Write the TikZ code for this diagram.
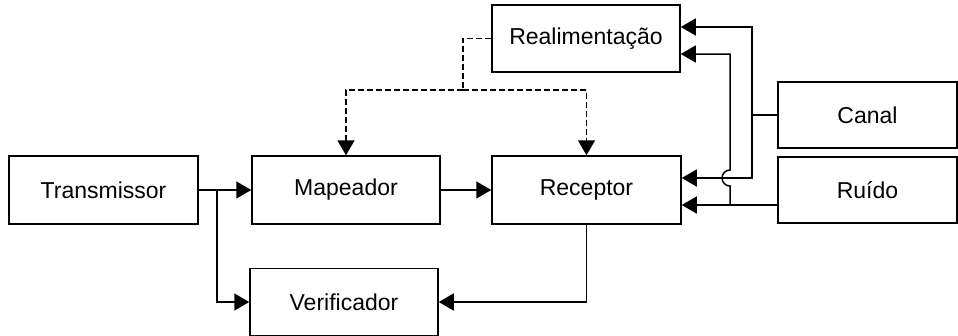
\documentclass[tikz,border=0pt]{standalone}
\usepackage{fontspec}
\setmainfont{Liberation Sans}
\usetikzlibrary{arrows.meta}
\begin{document}
\begin{tikzpicture}[x=1pt,y=-1pt,
  blk/.style={draw,line width=1.5pt,inner sep=0pt,font=\fontsize{23}{26}\selectfont},
  con/.style={line width=1.5pt},
  arr/.style={con,-{Triangle[length=15pt,width=17pt]}},
  dsh/.style={line width=1.5pt,dash pattern=on 6pt off 3pt}]
\useasboundingbox (0,0) rectangle (958,335);
\node[blk,minimum width=189pt,minimum height=68pt] (T) at (103.5,190) {Transmissor};
\node[blk,minimum width=188pt,minimum height=68pt] (M) at (346,190) {Mapeador};
\node[blk,minimum width=188pt,minimum height=67pt] (V) at (344,302) {Verificador};
\node[blk,minimum width=189pt,minimum height=68pt] (R) at (586.5,190) {Receptor};
\node[blk,minimum width=188pt,minimum height=67pt] (F) at (586,38.5) {Realimentação};
\node[blk,minimum width=179pt,minimum height=66pt] (C) at (867.5,115) {Canal};
\node[blk,minimum width=179pt,minimum height=66pt] (N) at (867.5,190) {Ruído};
% forward path
\draw[arr] (T.east) -- (M.west);
\coordinate (b1) at (217,190);
\draw[arr] (b1) |- (V.west);
\draw[arr] (M.east) -- (R.west);
\draw[arr] (R.south) |- (V.east);
% feedback (dashed)
\coordinate (fj) at (463,90);
\draw[dsh] (F.west) -| (fj);
\draw[dsh,-{Triangle[length=15pt,width=17pt]}] (fj) -| (M.north);
\draw[dsh,-{Triangle[length=15pt,width=17pt]}] (fj) -| (R.north);
% canal
\coordinate (cj) at (752,115);
\draw[con] (C.west) -- (cj);
\draw[arr] (cj) |- ([yshift=11.5pt]F.east);
\draw[arr] (cj) |- ([yshift=12pt]R.east);
% ruido
\coordinate (nj) at (730,205);
\draw[arr] ([yshift=-15pt]N.west) -- ([yshift=-15pt]R.east);
\draw[arr] (nj) -- (730,186) arc[start angle=270,end angle=90,radius=8pt] -- (730,54) -- ([yshift=-15.5pt]F.east);
\end{tikzpicture}
\end{document}
